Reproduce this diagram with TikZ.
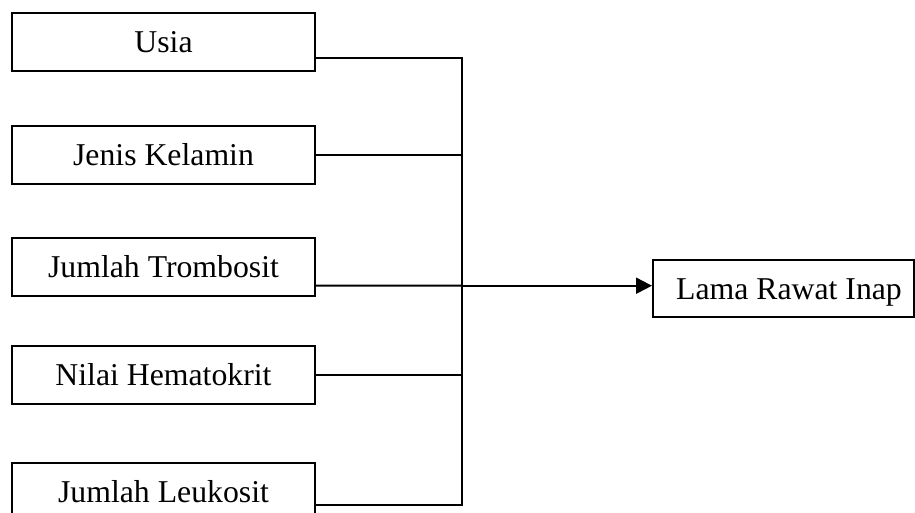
\documentclass[tikz,border=0pt]{standalone}
\usepackage{fontspec}
\setmainfont{Liberation Serif}
\usetikzlibrary{arrows.meta}
\begin{document}
\begin{tikzpicture}[x=1pt,y=-1pt,
  box/.style={draw, line width=2pt, minimum width=303pt, minimum height=58pt,
    inner sep=0pt, text height=21pt, text depth=0pt,
    font=\fontsize{31.75}{38}\selectfont},
  conn/.style={line width=2pt},
  arr/.style={line width=2pt, -{Triangle[length=16pt,width=16pt]}}]
\useasboundingbox (0,0) rectangle (915,512);
\clip (0,0) rectangle (915,512);
\node[box] (usia)  at (163.5,42)    {Usia};
\node[box] (jenis) at (163.5,154.5) {Jenis Kelamin};
\node[box] (tromb) at (163.5,266.5) {Jumlah Trombosit};
\node[box] (nilai) at (163.5,374.5) {Nilai Hematokrit};
\node[box] (leuk)  at (163.5,491.5) {Jumlah Leukosit};
\node[box, minimum width=261pt, minimum height=57pt] (lama) at (783.5,288.5) {\hspace*{11pt}Lama Rawat Inap};
\coordinate (top) at (462,58);
\coordinate (bot) at (462,505);
\coordinate (mid) at (462,285.7);
\draw[conn] ([yshift=-16pt]usia.east) -- (top) -- (bot) -- ([yshift=-13.5pt]leuk.east);
\draw[conn] (jenis.east) -- (jenis.east -| top);
\draw[conn] ([yshift=-19pt]tromb.east) -- (mid);
\draw[conn] (nilai.east) -- (nilai.east -| top);
\draw[arr] (mid) -- (lama.west |- mid);
\end{tikzpicture}
\end{document}
